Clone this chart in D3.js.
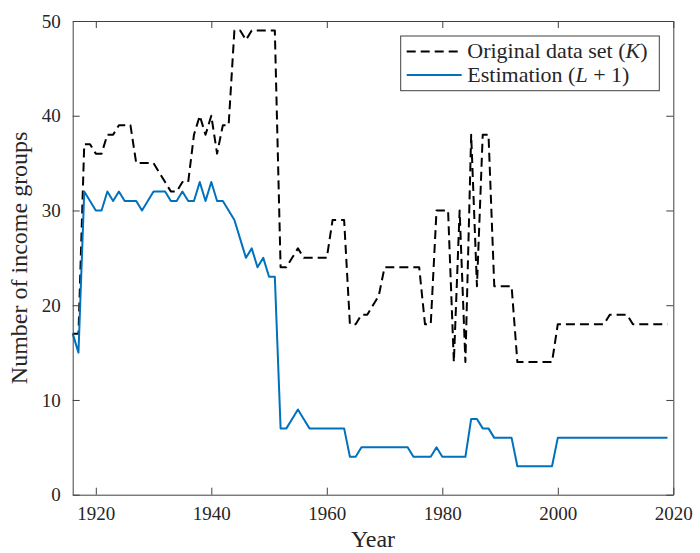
<!DOCTYPE html>
<html>
<head>
<meta charset="utf-8">
<script src="https://cdn.jsdelivr.net/npm/d3@7"></script>
<style>
  html, body { margin: 0; padding: 0; background: #fff; }
  svg { display: block; }
  text { font-family: "Liberation Serif", "Times New Roman", serif; fill: #262626; }
</style>
</head>
<body>
<script>
// ---- data ----
const years = d3.range(1916, 2020); // 1916..2019
const originalK = [
  17, 17, 37, 37, 36, 36, 38, 38, 39, 39,   // 1916-1925
  39, 35, 35, 35, 35, 34, 33, 32, 32, 33,   // 1926-1935
  33, 38, 40, 38, 40, 36, 39, 39, 49, 49,   // 1936-1945
  48, 49, 49, 49, 49, 49, 24, 24, 25, 26,   // 1946-1955
  25, 25, 25, 25, 25, 29, 29, 29, 18, 18,   // 1956-1965
  19, 19, 20, 21, 24, 24, 24, 24, 24, 24,   // 1966-1975
  24, 18, 18, 30, 30, 30, 14, 30, 14, 38,   // 1976-1985
  22, 38, 38, 22, 22, 22, 22, 14, 14, 14,   // 1986-1995
  14, 14, 14, 14, 18, 18, 18, 18, 18, 18,   // 1996-2005
  18, 18, 18, 19, 19, 19, 19, 18, 18, 18,   // 2006-2015
  18, 18, 18, 18                            // 2016-2019
];
const estimationL1 = [
  17, 15, 32, 31, 30, 30, 32, 31, 32, 31,   // 1916-1925
  31, 31, 30, 31, 32, 32, 32, 31, 31, 32,   // 1926-1935
  31, 31, 33, 31, 33, 31, 31, 30, 29, 27,   // 1936-1945
  25, 26, 24, 25, 23, 23, 7, 7, 8, 9,       // 1946-1955
  8, 7, 7, 7, 7, 7, 7, 7, 4, 4,             // 1956-1965
  5, 5, 5, 5, 5, 5, 5, 5, 5, 4,             // 1966-1975
  4, 4, 4, 5, 4, 4, 4, 4, 4, 8,             // 1976-1985
  8, 7, 7, 6, 6, 6, 6, 3, 3, 3,             // 1986-1995
  3, 3, 3, 3, 6, 6, 6, 6, 6, 6,             // 1996-2005
  6, 6, 6, 6, 6, 6, 6, 6, 6, 6,             // 2006-2015
  6, 6, 6, 6                                // 2016-2019
];
const xTicks = [1920, 1940, 1960, 1980, 2000, 2020];
const yTicks = [0, 10, 20, 30, 40, 50];
const xDomain = [1916, 2020];
const yDomain = [0, 50];
const xLabel = "Year";
const yLabel = "Number of income groups";

// ---- layout ----
const W = 700, H = 553;
const m = { left: 72.7, right: 700 - 673.3, top: 21, bottom: 553 - 494.7 };
const iw = W - m.left - m.right, ih = H - m.top - m.bottom;
const axisColor = "#404040";

const svg = d3.select("body").append("svg").attr("width", W).attr("height", H);
const g = svg.append("g").attr("transform", `translate(${m.left},${m.top})`);

const x = d3.scaleLinear().domain(xDomain).range([0, iw]);
const y = d3.scaleLinear().domain(yDomain).range([ih, 0]);

// lines
const lineGen = d3.line().x((d, i) => x(years[i])).y(d => y(d));
g.append("path").datum(originalK)
  .attr("d", lineGen).attr("fill", "none")
  .attr("stroke", "#000").attr("stroke-width", 2)
  .attr("stroke-dasharray", "9,5").attr("stroke-linejoin", "round");
g.append("path").datum(estimationL1)
  .attr("d", lineGen).attr("fill", "none")
  .attr("stroke", "#0072BD").attr("stroke-width", 2)
  .attr("stroke-linejoin", "round");

// axes (ticks inward, box)
const tickLen = 7;
const axB = g.append("g").attr("transform", `translate(0,${ih})`)
  .call(d3.axisBottom(x).tickValues(xTicks).tickFormat(d3.format("d")).tickSizeInner(-tickLen).tickSizeOuter(0).tickPadding(12));
const axT = g.append("g")
  .call(d3.axisTop(x).tickValues(xTicks).tickFormat("").tickSizeInner(-tickLen).tickSizeOuter(0));
const axL = g.append("g")
  .call(d3.axisLeft(y).tickValues(yTicks).tickSizeInner(-tickLen).tickSizeOuter(0).tickPadding(12));
const axR = g.append("g").attr("transform", `translate(${iw},0)`)
  .call(d3.axisRight(y).tickValues(yTicks).tickFormat("").tickSizeInner(-tickLen).tickSizeOuter(0));

[axB, axT, axL, axR].forEach(a => {
  a.selectAll("path.domain").attr("stroke", axisColor).attr("stroke-width", 1);
  a.selectAll(".tick line").attr("stroke", axisColor).attr("stroke-width", 1);
  a.selectAll("text").attr("font-family", "Liberation Serif, serif").attr("font-size", 19).attr("fill", "#262626");
});

// axis labels
svg.append("text").attr("x", m.left + iw / 2).attr("y", 547)
  .attr("text-anchor", "middle").attr("font-size", 24).text(xLabel);
svg.append("text").attr("transform", `translate(27,${m.top + ih / 2}) rotate(-90)`)
  .attr("text-anchor", "middle").attr("font-size", 24).text(yLabel);

// legend
const lg = svg.append("g");
lg.append("rect").attr("x", 400.7).attr("y", 36).attr("width", 258.6).attr("height", 54.7)
  .attr("fill", "#fff").attr("stroke", axisColor).attr("stroke-width", 1);
const entries = [
  { pre: "Original data set (", it: "K", post: ")", color: "#000", dash: "9,5", yy: 51.5 },
  { pre: "Estimation (", it: "L", post: " + 1)", color: "#0072BD", dash: null, yy: 75 }
];
entries.forEach(e => {
  const ln = lg.append("line").attr("x1", 406.7).attr("x2", 461.7).attr("y1", e.yy).attr("y2", e.yy)
    .attr("stroke", e.color).attr("stroke-width", 2);
  if (e.dash) ln.attr("stroke-dasharray", e.dash);
  const t = lg.append("text").attr("x", 467.3).attr("y", e.yy + 6.5).attr("font-size", 22);
  t.append("tspan").text(e.pre);
  t.append("tspan").attr("font-style", "italic").text(e.it);
  t.append("tspan").text(e.post);
});
</script>
</body>
</html>
